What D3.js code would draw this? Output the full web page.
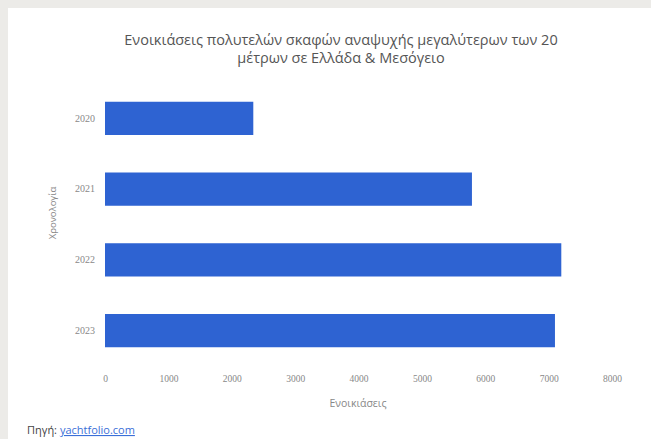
<!DOCTYPE html>
<html>
<head>
<meta charset="utf-8">
<script src="https://cdn.jsdelivr.net/npm/d3@7"></script>
<style>
  body { margin: 0; background: #ecebe8; }
  svg { display: block; font-family: "Open Sans", "Noto Sans", sans-serif; }
</style>
</head>
<body>
<svg width="651" height="439"></svg>
<script>
// data
const years = ["2020", "2021", "2022", "2023"];
const rentals = [2340, 5790, 7200, 7100];
const xTicks = [0, 1000, 2000, 3000, 4000, 5000, 6000, 7000, 8000];

let svg = d3.select("svg"),
    width = +svg.attr("width"),
    height = +svg.attr("height");

// white panel inside the grey frame
svg.append("rect")
    .attr("x", 8).attr("y", 8)
    .attr("width", width - 8).attr("height", height - 8)
    .attr("fill", "#fff");

// scales
let x = d3.scaleLinear().domain([0, 8000]).range([105, 612]);
let y = d3.scaleBand().domain(years).range([83, 366])
    .paddingInner(0.53).paddingOuter(0.265);

// title
svg.append("text")
    .attr("x", 341).attr("text-anchor", "middle")
    .attr("fill", "#555").style("font-size", "14.5px")
    .selectAll("tspan")
    .data(["Ενοικιάσεις πολυτελών σκαφών αναψυχής μεγαλύτερων των 20", "μέτρων σε Ελλάδα & Μεσόγειο"])
    .enter().append("tspan")
        .attr("x", 341)
        .attr("y", (d, i) => 45 + i * 18)
        .text(d => d);

// bars
svg.append("g")
    .selectAll("rect")
    .data(years)
    .enter().append("rect")
        .attr("x", x(0))
        .attr("y", d => y(d))
        .attr("width", (d, i) => x(rentals[i]) - x(0))
        .attr("height", y.bandwidth())
        .attr("fill", "#2e63d2");

// x axis
let xAxis = svg.append("g")
    .attr("transform", "translate(0,375)")
    .call(d3.axisBottom(x).tickValues(xTicks).tickFormat(d3.format("d")).tickSize(0).tickPadding(0));
xAxis.select(".domain").remove();
xAxis.selectAll("text")
    .attr("fill", "#888").style("font-size", "9.5px")
    .style("font-family", "'Liberation Serif', serif");

// y axis
let yAxis = svg.append("g")
    .attr("transform", "translate(95,0)")
    .call(d3.axisLeft(y).tickSize(0).tickPadding(0));
yAxis.select(".domain").remove();
yAxis.selectAll("text")
    .attr("fill", "#888").style("font-size", "10px")
    .style("font-family", "'Liberation Serif', serif");

// axis titles
svg.append("text")
    .attr("x", 358).attr("y", 407)
    .attr("text-anchor", "middle")
    .attr("fill", "#888").style("font-size", "10.5px")
    .text("Ενοικιάσεις");

svg.append("text")
    .attr("transform", "translate(56,213) rotate(-90)")
    .attr("text-anchor", "middle")
    .attr("fill", "#888").style("font-size", "9.5px")
    .text("Χρονολογία");

// source line
let src = svg.append("text")
    .attr("x", 27).attr("y", 434)
    .style("font-size", "11px");
src.append("tspan").attr("fill", "#444").text("Πηγή: ");
src.append("tspan").attr("fill", "#3a6fd8")
    .style("text-decoration", "underline")
    .text("yachtfolio.com");
</script>
</body>
</html>
